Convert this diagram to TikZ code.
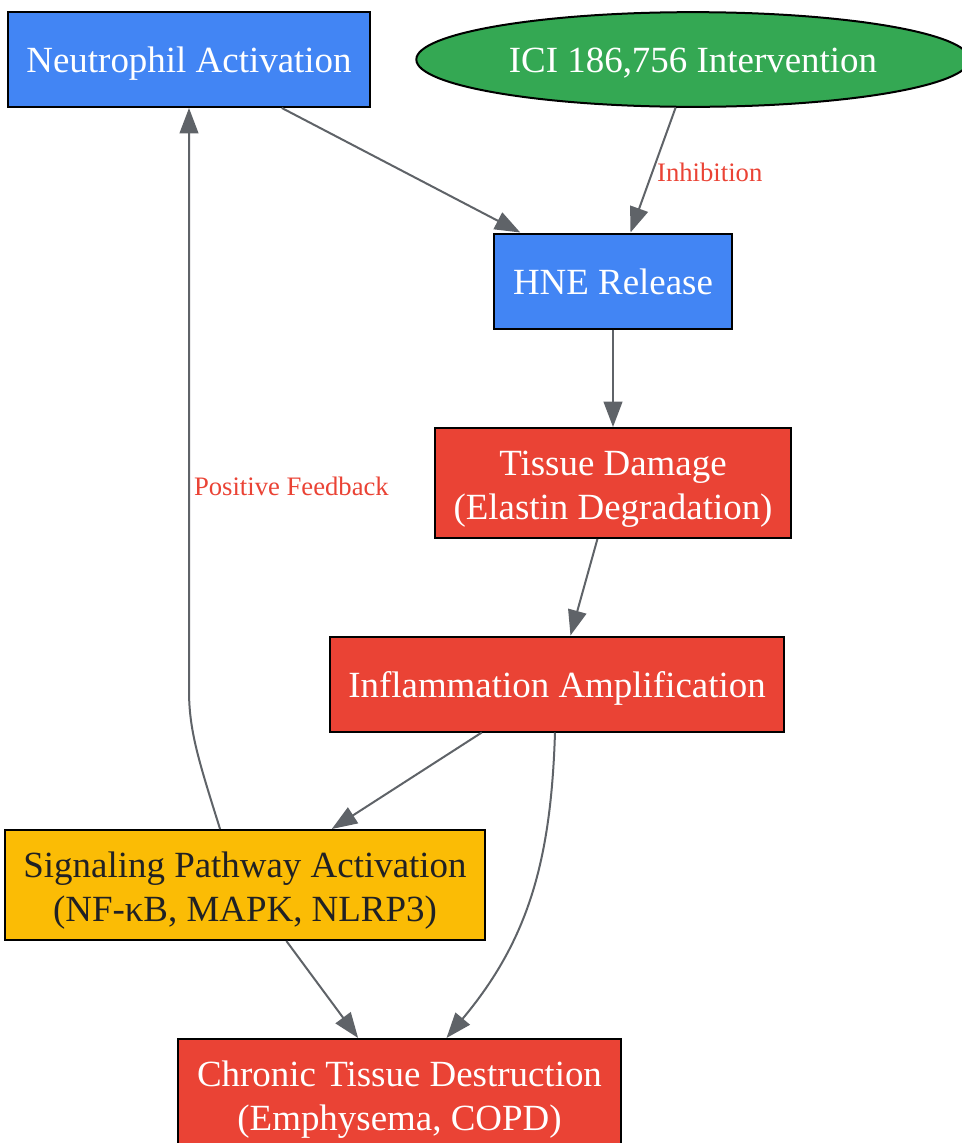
\documentclass[tikz,border=0pt]{standalone}
\usepackage{fontspec}
\setmainfont{Liberation Serif}
\usepackage{tikz}
\usetikzlibrary{arrows.meta,positioning,shapes,calc}
\definecolor{gblue}{HTML}{4285F4}
\definecolor{gred}{HTML}{EA4335}
\definecolor{ggreen}{HTML}{34A853}
\definecolor{gyellow}{HTML}{FBBC05}
\definecolor{edgegray}{HTML}{5F6368}
\definecolor{darktext}{HTML}{202124}
\tikzstyle{stage}=[draw=black, line width=1.5pt, rectangle, text=white, inner xsep=14pt, inner ysep=0pt, text height=20pt, text depth=0pt, minimum height=71.25pt, align=center, font=\fontsize{27.7}{33}\selectfont]
\tikzstyle{two lines}=[text height=54pt, text depth=0pt, minimum height=82.5pt]
\tikzstyle{stage blue}=[stage, fill=gblue]
\tikzstyle{stage red}=[stage, fill=gred]
\tikzstyle{stage yellow}=[stage, fill=gyellow, text=darktext]
\tikzstyle{drug}=[draw=black, line width=1.5pt, ellipse, fill=ggreen, text=white, inner sep=0pt, text height=20pt, text depth=0pt, minimum width=415pt, minimum height=71pt, font=\fontsize{27.7}{33}\selectfont]
\tikzstyle{link}=[->, draw=edgegray, line width=1.5pt]
\tikzstyle{link label}=[text=gred, inner sep=3pt, font=\fontsize{20}{24}\selectfont]

\begin{document}
\begin{tikzpicture}[>={Triangle[length=19pt,width=14pt]}, x=0.75pt, y=-0.75pt]
    \useasboundingbox (0,0) rectangle (962,1143);

    % Cascade
    \draw (189,59.5) node[stage blue] (neut) {Neutrophil Activation};
    \draw (693,59.5) node[drug] (ici) {ICI 186,756 Intervention};
    \draw (613,281) node[stage blue] (hne) {HNE Release};
    \draw (613,483) node[stage red, two lines] (tissue) {Tissue Damage\\(Elastin Degradation)};
    \draw (557,684) node[stage red] (infl) {Inflammation Amplification};
    \draw (245,885) node[stage yellow, two lines] (signal) {Signaling Pathway Activation\\(NF-κB, MAPK, NLRP3)};
    \draw (399.5,1094) node[stage red, two lines] (chronic) {Chronic Tissue Destruction\\(Emphysema, COPD)};

    % Links
    \draw[link] (neut) -- (hne);
    \draw[link] (ici) -- node[link label, right, pos=.52] (inhib) {Inhibition} (hne);
    \draw[link] (hne) -- (tissue);
    \draw[link] (tissue) -- (infl);
    \draw[link] (infl) -- (signal);
    \draw[link] (signal) -- (chronic);
    \draw[link] (infl.south) ++(-2,0) .. controls +(-4,128) and +(82,-98) .. (chronic.50);

    % Feedback loop
    \draw[link] (signal.114) .. controls +(-22,-70) and +(0,40) .. (neut.south |- 0,690)
    -- node[link label, right, pos=.35] (feedback) {Positive Feedback} (neut.south);

\end{tikzpicture}
\end{document}
